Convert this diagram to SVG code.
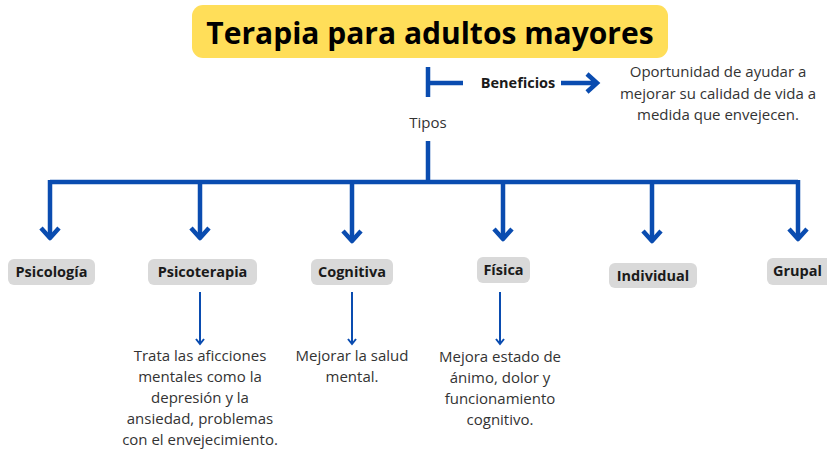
<svg xmlns="http://www.w3.org/2000/svg" width="827" height="453" viewBox="0 0 827 453">
<defs>
<style>
.t{font-family:"Open Sans","Liberation Sans",sans-serif;fill:#1f1f1f}
.title{font-size:30px;font-weight:700;fill:#000}
.lbl{font-size:14.5px;font-weight:700;fill:#1a1a1a}
.body{font-size:15px;fill:#333}
.box{fill:#d9d9d9}
.ln{stroke:#0a4cb0;fill:none;stroke-linecap:butt}
.thick{stroke-width:4.5}
.thin{stroke-width:2}
</style>
</defs>
<rect width="827" height="453" fill="#fff"/>
<g id="title">
<rect x="192" y="5" width="476" height="53" rx="11" fill="#ffde59"/>
<text class="t title" x="430" y="44" text-anchor="middle">Terapia para adultos mayores</text>
</g>
<g id="connectors">
<path class="ln thick" d="M428 67V97M428 83H463"/>
<path class="ln thick" d="M561 83H596M587 74L597 83L587 92"/>
<path class="ln thick" d="M428 141V182M50 182H798M50 180V237M200 180V237M352 180V240M503 180V238M652 180V240M798 180V238" stroke-linejoin="miter"/>
<path class="ln thick" d="M41 228L50 238L59 228M191 228L200 238L209 228M343 231L352 241L361 231M494 229L503 239L512 229M643 231L652 241L661 231M789 229L798 239L807 229" stroke-linejoin="round" stroke-linecap="round"/>
<path class="ln thin" d="M200 292V344M352 292V344M500 292V344"/>
<path class="ln thin" d="M196 339L200 344L204 339M348 339L352 344L356 339M496 339L500 344L504 339" stroke-linecap="round"/>
</g>
<g id="beneficios">
<text class="t lbl" x="518" y="88" text-anchor="middle">Beneficios</text>
</g>
<g id="beneficios-desc">
<text class="t body" text-anchor="middle"><tspan x="718" y="77">Oportunidad de ayudar a</tspan><tspan x="718" y="99">mejorar su calidad de vida a</tspan><tspan x="718" y="120">medida que envejecen.</tspan></text>
</g>
<g id="tipos">
<text class="t body" x="428" y="128" text-anchor="middle">Tipos</text>
</g>
<g id="psicologia">
<rect class="box" x="8" y="259" width="87" height="26" rx="6"/>
<text class="t lbl" x="51.5" y="277" text-anchor="middle">Psicología</text>
</g>
<g id="psicoterapia">
<rect class="box" x="148" y="259" width="109" height="26" rx="6"/>
<text class="t lbl" x="202.5" y="277" text-anchor="middle">Psicoterapia</text>
</g>
<g id="cognitiva">
<rect class="box" x="311" y="259" width="82" height="26" rx="6"/>
<text class="t lbl" x="352" y="277" text-anchor="middle">Cognitiva</text>
</g>
<g id="fisica">
<rect class="box" x="477" y="257" width="53" height="26" rx="6"/>
<text class="t lbl" x="503.5" y="275" text-anchor="middle">Física</text>
</g>
<g id="individual">
<rect class="box" x="609" y="263" width="88" height="25" rx="6"/>
<text class="t lbl" x="653" y="281" text-anchor="middle">Individual</text>
</g>
<g id="grupal">
<rect class="box" x="767" y="258" width="66" height="27" rx="6"/>
<text class="t lbl" x="797.5" y="276" text-anchor="middle">Grupal</text>
</g>
<g id="psicoterapia-desc">
<text class="t body" text-anchor="middle"><tspan x="200" y="361">Trata las aficciones</tspan><tspan x="200" y="382">mentales como la</tspan><tspan x="200" y="403">depresión y la</tspan><tspan x="200" y="424">ansiedad, problemas</tspan><tspan x="200" y="445">con el envejecimiento.</tspan></text>
</g>
<g id="cognitiva-desc">
<text class="t body" text-anchor="middle"><tspan x="352" y="361">Mejorar la salud</tspan><tspan x="352" y="382">mental.</tspan></text>
</g>
<g id="fisica-desc">
<text class="t body" text-anchor="middle"><tspan x="500" y="362">Mejora estado de</tspan><tspan x="500" y="383">ánimo, dolor y</tspan><tspan x="500" y="404">funcionamiento</tspan><tspan x="500" y="425">cognitivo.</tspan></text>
</g>
</svg>
